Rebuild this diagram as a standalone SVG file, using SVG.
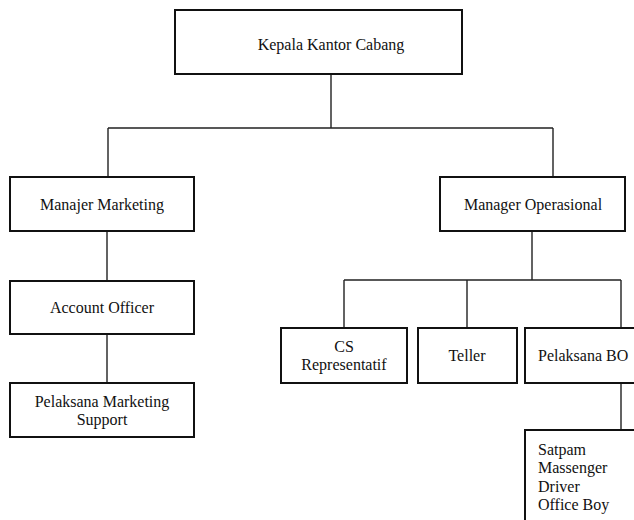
<svg xmlns="http://www.w3.org/2000/svg" width="634" height="520" viewBox="0 0 634 520">
<style>
.box{fill:#fff;stroke:#111;stroke-width:2}
.ln{fill:none;stroke:#222;stroke-width:1.4}
text{font-family:"Liberation Serif","Times New Roman",serif;font-size:16px;fill:#111}
.c{text-anchor:middle}
</style>
<rect width="634" height="520" fill="#fff"/>
<g id="connectors">
<path class="ln" d="M331 74V128M108 128H553M108 128V177M553 128V177"/>
<path class="ln" d="M107 231V281M107 334V383"/>
<path class="ln" d="M532 231V280M344 280H621M344 280V328M467 280V328M621 280V328M621 383V430"/>
</g>
<g id="kepala"><rect class="box" x="175" y="10" width="287" height="64"/><text class="c" x="331" y="50">Kepala Kantor Cabang</text></g>
<g id="manajer-marketing"><rect class="box" x="10" y="177" width="184" height="54"/><text class="c" x="102" y="210">Manajer Marketing</text></g>
<g id="account-officer"><rect class="box" x="10" y="281" width="184" height="53"/><text class="c" x="102" y="313">Account Officer</text></g>
<g id="pelaksana-marketing"><rect class="box" x="10" y="383" width="184" height="54"/><text class="c" x="102" y="407">Pelaksana Marketing</text><text class="c" x="102" y="425">Support</text></g>
<g id="manager-operasional"><rect class="box" x="440" y="177" width="185" height="54"/><text class="c" x="533" y="210">Manager Operasional</text></g>
<g id="cs"><rect class="box" x="281" y="328" width="126" height="55"/><text class="c" x="344" y="352">CS</text><text class="c" x="344" y="370">Representatif</text></g>
<g id="teller"><rect class="box" x="418" y="328" width="99" height="55"/><text class="c" x="467" y="361">Teller</text></g>
<g id="pelaksana-bo"><rect class="box" x="525" y="328" width="120" height="55"/><text x="538" y="361">Pelaksana BO</text></g>
<g id="staff"><rect class="box" x="525" y="430" width="120" height="100"/><text x="538" y="455">Satpam</text><text x="538" y="473">Massenger</text><text x="538" y="492">Driver</text><text x="538" y="510">Office Boy</text></g>
</svg>
